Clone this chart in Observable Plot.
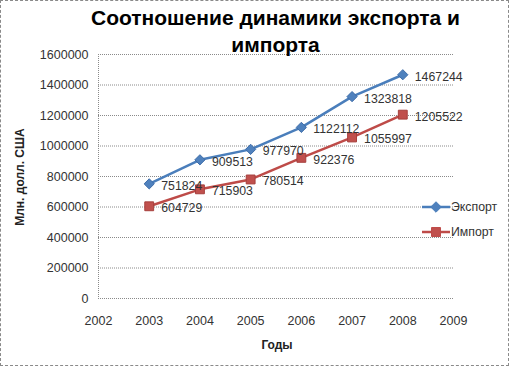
<!DOCTYPE html>
<html><head><meta charset="utf-8">
<script src="https://cdn.jsdelivr.net/npm/d3@7"></script>
<script src="https://cdn.jsdelivr.net/npm/@observablehq/plot@0.6"></script>
<style>
body{margin:0;background:#fff;}
#wrap{position:relative;width:511px;height:368px;font-family:"Liberation Sans",Arial,sans-serif;}
#border{position:absolute;left:0;top:0;width:507px;height:364px;border:1px dashed #8a8a8a;pointer-events:none;}
#title{position:absolute;left:20px;top:4px;width:511px;text-align:center;font-weight:bold;font-size:21px;line-height:27px;color:#000;}
#ylab{position:absolute;left:20px;top:177px;transform:translate(-50%,-50%) rotate(-90deg);font-weight:bold;font-size:12px;white-space:nowrap;color:#222;}
#xlab{position:absolute;left:277px;top:345px;transform:translate(-50%,-50%);font-weight:bold;font-size:12px;color:#222;}
#legend{position:absolute;left:420px;top:196px;}
svg{overflow:visible;}
</style></head>
<body><div id="wrap"><div id="chart"></div>
<div id="title">Соотношение динамики экспорта и<br>импорта</div>
<div id="ylab">Млн. долл. США</div>
<div id="xlab">Годы</div>
<div id="legend"></div>
<div id="border"></div>
</div>
<script>
const years = [2003, 2004, 2005, 2006, 2007, 2008];
const exportVals = [751824, 909513, 977970, 1122112, 1323818, 1467244];
const importVals = [604729, 715903, 780514, 922376, 1055997, 1205522];
const xTicks = [2002, 2003, 2004, 2005, 2006, 2007, 2008, 2009];
const yTicks = [0, 200000, 400000, 600000, 800000, 1000000, 1200000, 1400000, 1600000];
const seriesNames = ["Экспорт", "Импорт"];
const colors = {"Экспорт": "#4A7EBB", "Импорт": "#BE4B48"};

const exp = years.map((y, i) => ({year: y, value: exportVals[i], s: seriesNames[0]}));
const imp = years.map((y, i) => ({year: y, value: importVals[i], s: seriesNames[1]}));

const chart = Plot.plot({
  width: 511, height: 368,
  marginLeft: 98, marginRight: 58, marginTop: 54, marginBottom: 70,
  style: {fontFamily: "Liberation Sans, Arial, sans-serif", fontSize: "12.5px", color: "#333", background: "transparent"},
  x: {domain: [2002, 2009], ticks: xTicks, tickFormat: d => String(d), tickSize: 0, tickPadding: 18, label: null},
  y: {domain: [0, 1600000], ticks: yTicks, tickFormat: d => String(d), tickSize: 0, tickPadding: 10, label: null},
  marks: [
    Plot.gridY(yTicks, {stroke: "#8a8a8a", strokeOpacity: 1, strokeDasharray: "1,1"}),
    Plot.ruleX([2002], {stroke: "#8a8a8a", strokeDasharray: "1,1"}),
    Plot.lineY(imp, {x: "year", y: "value", stroke: colors["Импорт"], strokeWidth: 2.5}),
    Plot.lineY(exp, {x: "year", y: "value", stroke: colors["Экспорт"], strokeWidth: 2.5}),
    Plot.dot(imp, {x: "year", y: "value", symbol: "square", r: 5, fill: "#C0504D", stroke: "#A63F3C", strokeWidth: 1}),
    Plot.dot(exp, {x: "year", y: "value", symbol: "diamond2", r: 4.6, fill: "#4F81BD", stroke: "#3D6CA8", strokeWidth: 1}),
    Plot.text(exp, {x: "year", y: "value", text: d => String(d.value), textAnchor: "start", dx: 12, dy: 2, fill: "#333", fontSize: 12.3}),
    Plot.text(imp, {x: "year", y: "value", text: d => String(d.value), textAnchor: "start", dx: 12, dy: 2, fill: "#333", fontSize: 12.3})
  ]
});
document.getElementById("chart").appendChild(chart);

// legend
const leg = d3.select("#legend").append("svg").attr("width", 90).attr("height", 50);
const items = [
  {name: seriesNames[0], color: colors["Экспорт"], fill: "#4F81BD", sym: d3.symbolDiamond2, size: 70},
  {name: seriesNames[1], color: colors["Импорт"], fill: "#C0504D", sym: d3.symbolSquare, size: 80}
];
items.forEach((it, i) => {
  const g = leg.append("g").attr("transform", `translate(0,${11 + i * 25})`);
  g.append("line").attr("x1", 2).attr("x2", 30).attr("stroke", it.color).attr("stroke-width", 2.5);
  g.append("path").attr("d", d3.symbol(it.sym, it.size)()).attr("transform", "translate(16,0)").attr("fill", it.fill).attr("stroke", it.color);
  g.append("text").attr("x", 31).attr("y", 0).attr("dy", "0.35em").attr("font-size", 12.3).attr("fill", "#333").text(it.name);
});
</script></body></html>
